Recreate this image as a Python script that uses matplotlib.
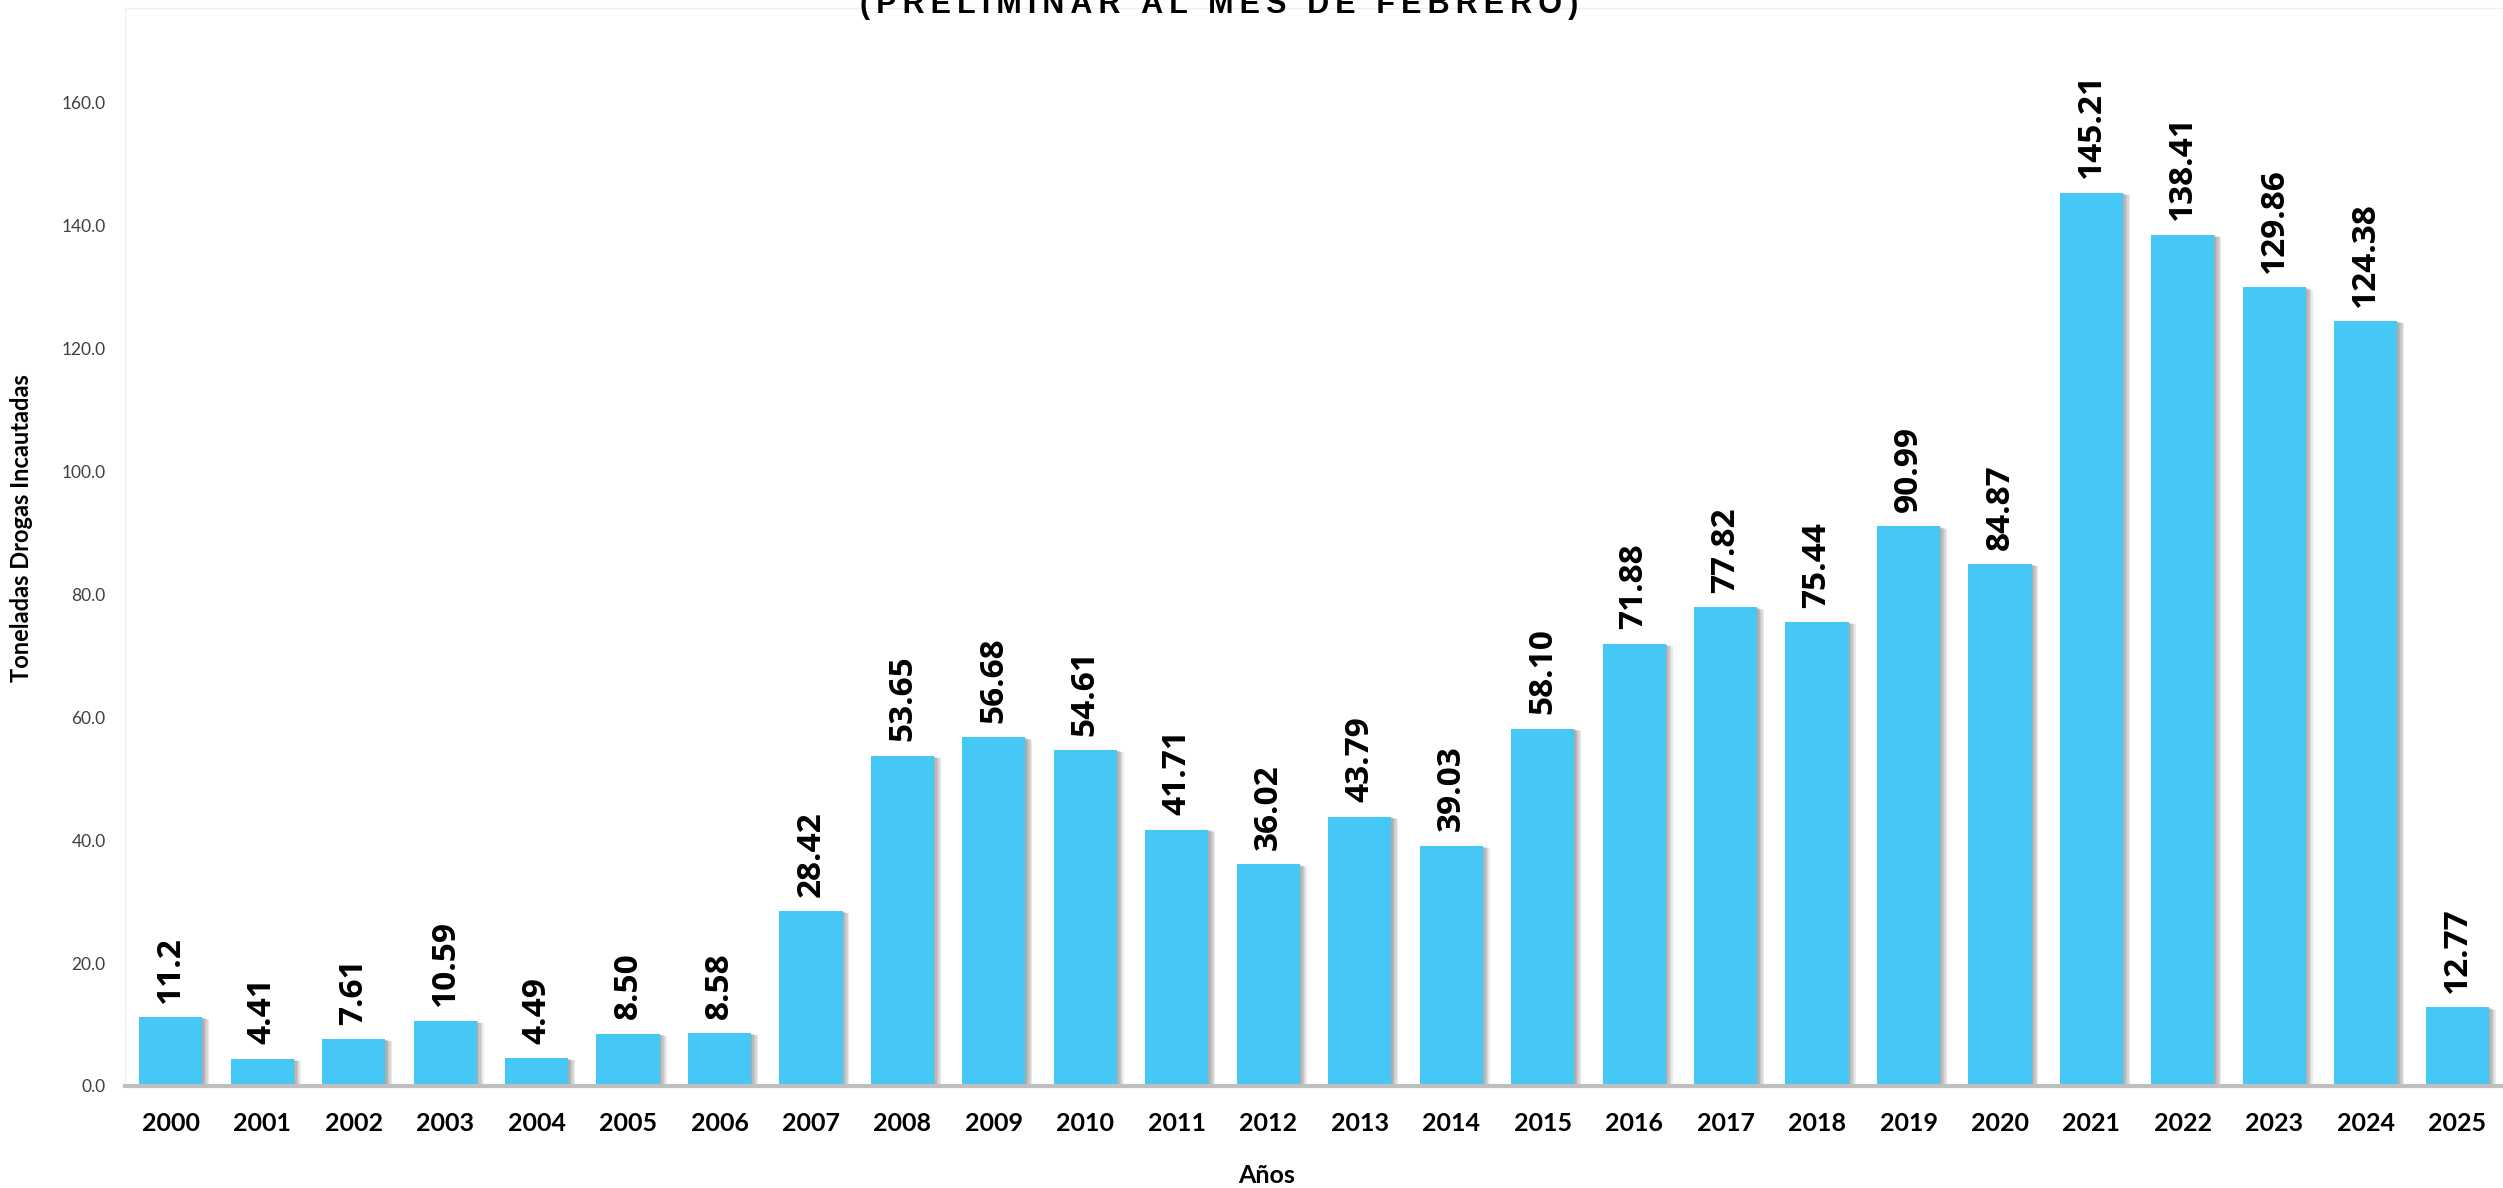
import matplotlib
matplotlib.use('Agg')
import matplotlib.pyplot as plt
import matplotlib.patheffects as pe

# datos
anios = ['2000', '2001', '2002', '2003', '2004', '2005', '2006', '2007', '2008',
         '2009', '2010', '2011', '2012', '2013', '2014', '2015', '2016', '2017',
         '2018', '2019', '2020', '2021', '2022', '2023', '2024', '2025']
toneladas = [11.2, 4.41, 7.61, 10.59, 4.49, 8.50, 8.58, 28.42, 53.65, 56.68,
             54.61, 41.71, 36.02, 43.79, 39.03, 58.10, 71.88, 77.82, 75.44,
             90.99, 84.87, 145.21, 138.41, 129.86, 124.38, 12.77]
etiquetas = ['11.2', '4.41', '7.61', '10.59', '4.49', '8.50', '8.58', '28.42',
             '53.65', '56.68', '54.61', '41.71', '36.02', '43.79', '39.03',
             '58.10', '71.88', '77.82', '75.44', '90.99', '84.87', '145.21',
             '138.41', '129.86', '124.38', '12.77']
yticks = [0, 20, 40, 60, 80, 100, 120, 140, 160]

W, H = 2503, 1188
fig = plt.figure(figsize=(W / 100, H / 100), dpi=100)
ax = fig.add_axes([125 / W, (H - 1086) / H, 1 - 125 / W, 1078 / H])

x = range(len(anios))
# sombra difusa a la derecha
sombra = [pe.SimplePatchShadow(offset=(k, -0.3 * k), shadow_rgbFace='#555555', alpha=0.12)
          for k in (1, 2, 3, 4, 5)]
bars = ax.bar(x, toneladas, width=0.69, color='#45C8F5', zorder=2)
for b in bars:
    b.set_path_effects(sombra + [pe.Normal()])

# etiquetas de valor
for xi, v, t in zip(x, toneladas, etiquetas):
    ax.annotate(t, (xi, v), xytext=(0, 10.5), textcoords='offset points',
                rotation=90, ha='center', va='bottom', fontsize=24,
                fontweight='bold', family='Open Sans', color='black')

ax.set_xlim(-0.5, 25.5)
ax.set_ylim(0, 175.3)
ax.set_xticks(list(x))
ax.set_xticklabels(anios, fontsize=18, fontweight='bold', family='Lato', color='black')
ax.set_yticks(yticks)
ax.set_yticklabels(['%.1f' % t for t in yticks], fontsize=12.5, family='Lato', color='#404040')
ax.tick_params(axis='both', length=0)
ax.tick_params(axis='x', pad=19)
ax.tick_params(axis='y', pad=14)

for s in ['left', 'top', 'right']:
    ax.spines[s].set_color('#F0F0F0')
    ax.spines[s].set_linewidth(1)
ax.spines['bottom'].set_color('#BFBFBF')
ax.spines['bottom'].set_linewidth(3)
ax.spines['bottom'].set_zorder(3)

# textos
fig.text(22 / W, 1 - 528 / H, 'Toneladas Drogas Incautadas', rotation=90,
         ha='center', va='center', fontsize=17, fontweight='bold', family='Lato')
fig.text(1267 / W, 1 - 1183 / H, 'Años', ha='center', va='baseline',
         fontsize=18, fontweight='bold', family='Lato')

titulo = '(PRELIMINAR AL MES DE FEBRERO)'
fino = '\u2009'
titulo_esp = (' ' + fino * 2).join(fino.join(p) for p in titulo.split(' '))
fig.text(1219 / W, 1 - 13 / H, titulo_esp, ha='center', va='baseline',
         fontsize=22, fontweight='bold', family=['Liberation Sans', 'DejaVu Sans'])

fig.savefig('out.png', dpi=100)
